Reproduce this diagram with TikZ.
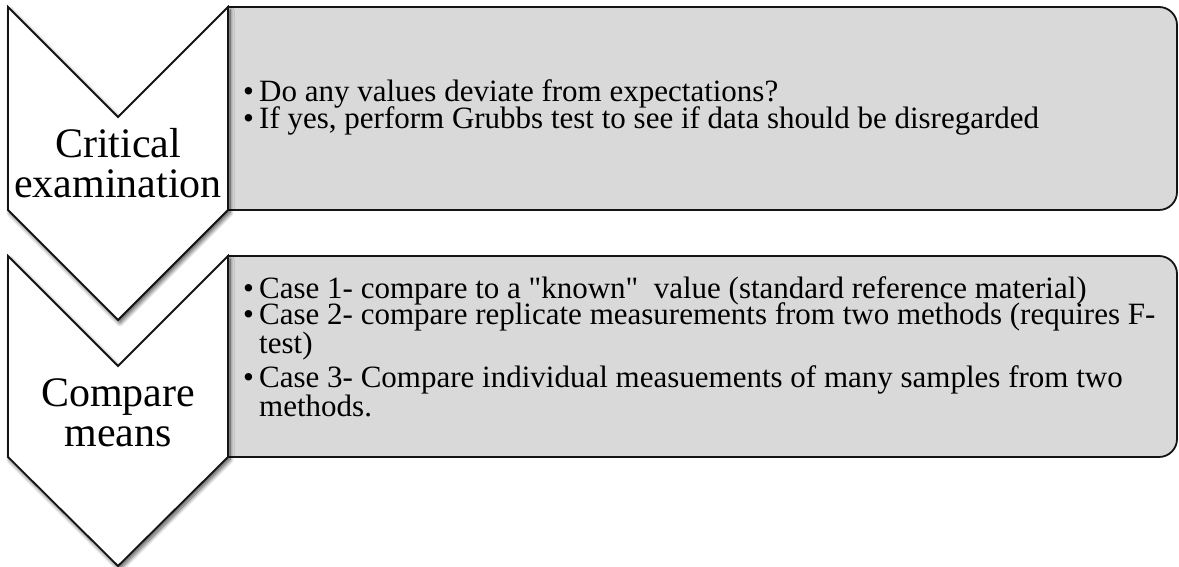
\documentclass[tikz,border=0pt]{standalone}
\usepackage{fontspec}
\setmainfont{Liberation Serif}
\usetikzlibrary{shadows.blur}
\definecolor{gris}{RGB}{217,217,217}
\definecolor{borde}{RGB}{20,20,20}
\newcommand{\vi}{\makebox[16pt][l]{\textbullet}}
\newcommand{\sangria}{\hspace*{16pt}}
\tikzset{
  flecha/.style={draw=borde, line width=1.8pt, fill=white, line join=miter,
    blur shadow={shadow xshift=2pt, shadow yshift=-3pt, shadow blur steps=10, shadow blur radius=4pt, shadow opacity=70}},
  caja/.style={draw=borde, line width=1.8pt, fill=gris},
  etq/.style={align=center, anchor=base, inner sep=0pt, font=\fontsize{42}{40}\selectfont},
  vin/.style={align=left, anchor=base west, inner sep=0pt, font=\fontsize{31}{27}\selectfont},
}

\begin{document}
\begin{tikzpicture}[x=1pt, y=1pt]
  \useasboundingbox (0,0) rectangle (1179,567);
  \draw[caja] (228,560) -- (1159,560) arc[start angle=90, end angle=0, radius=18]
    -- (1177,375) arc[start angle=0, end angle=-90, radius=18] -- (228,357) -- cycle;
  \draw[caja] (228,311) -- (1159,311) arc[start angle=90, end angle=0, radius=18]
    -- (1177,128) arc[start angle=0, end angle=-90, radius=18] -- (228,110) -- cycle;
  \draw[flecha] (8,560) -- (118,450) -- (228,560) -- (228,357) -- (118,247) -- (8,357) -- cycle;
  \draw[flecha] (8,311) -- (118,201) -- (228,311) -- (228,110) -- (118,1) -- (8,110) -- cycle;
  \node[etq] (critico) at (118,369) {Critical\\examination};
  \node[etq] (medias) at (118,120) {Compare\\means};
  \node[vin] (c1) at (243,465) {\vi Do any values deviate from expectations?};
  \node[vin] (c2) at (243,438) {\vi If yes, perform Grubbs test to see if data should be disregarded};
  \node[vin] (m1) at (243,268) {\vi Case 1- compare to a \textquotedbl known\textquotedbl\ \ value (standard reference material)};
  \node[vin] (m2) at (243,213) {\vi Case 2- compare replicate measurements from two methods (requires F-\\\sangria test)};
  \node[vin] (m3) at (243,150) {\vi Case 3- Compare individual measuements of many samples from two\\\sangria methods.};
\end{tikzpicture}
\end{document}
